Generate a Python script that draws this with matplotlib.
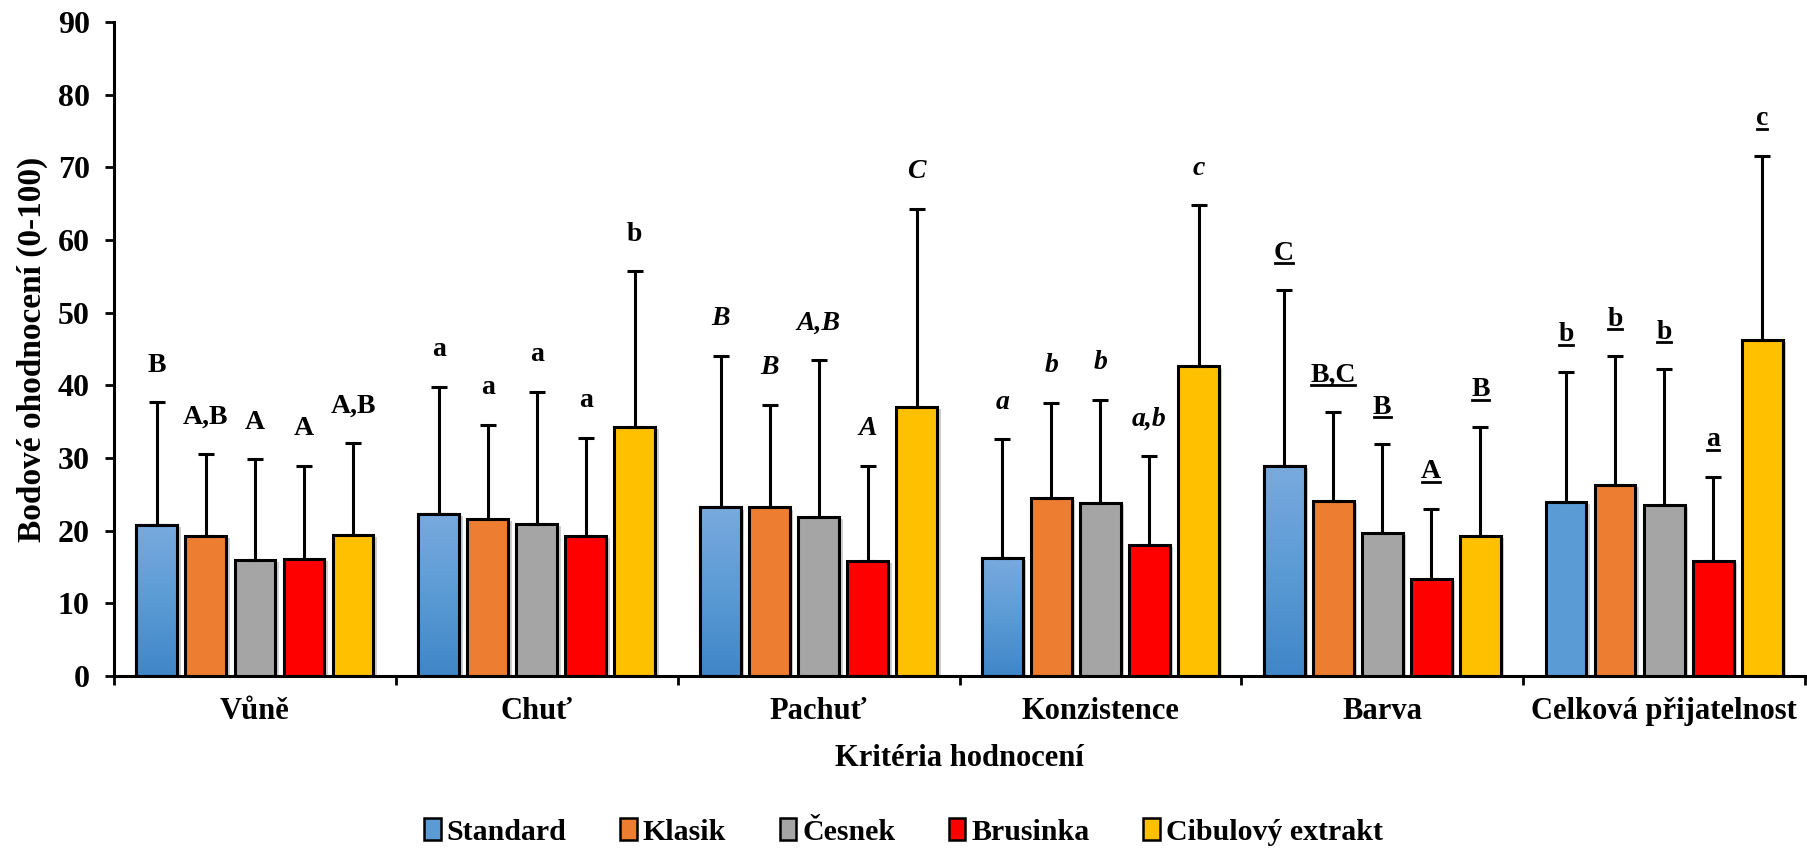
import matplotlib

matplotlib.use("Agg")

import matplotlib.pyplot as plt
import numpy as np
from matplotlib import patheffects
from matplotlib.colors import LinearSegmentedColormap
from matplotlib.lines import Line2D
from matplotlib.patches import Patch, Rectangle

# sensory scores (0-100), mean and standard deviation per sample and criterion
categories = ["Vůně", "Chuť", "Pachuť", "Konzistence", "Barva", "Celková přijatelnost"]
samples = ["Standard", "Klasik", "Česnek", "Brusinka", "Cibulový extrakt"]

standard_mean = [20.8, 22.3, 23.2, 16.3, 28.9, 23.9]
klasik_mean = [19.3, 21.6, 23.2, 24.5, 24.1, 26.3]
cesnek_mean = [16.0, 20.9, 21.9, 23.8, 19.7, 23.6]
brusinka_mean = [16.1, 19.3, 15.8, 18.0, 13.3, 15.8]
cibule_mean = [19.4, 34.3, 37.0, 42.6, 19.3, 46.3]

standard_sd = [16.9, 17.5, 20.9, 16.3, 24.2, 18.0]
klasik_sd = [11.2, 13.0, 14.1, 13.1, 12.2, 17.7]
cesnek_sd = [13.8, 18.2, 21.6, 14.2, 12.2, 18.6]
brusinka_sd = [12.8, 13.5, 13.1, 12.3, 9.7, 11.6]
cibule_sd = [12.7, 21.4, 27.3, 22.2, 15.0, 25.3]

# significance letters
standard_letters = ["B", "a", "B", "a", "C", "b"]
klasik_letters = ["A,B", "a", "B", "b", "B,C", "b"]
cesnek_letters = ["A", "a", "A,B", "b", "B", "b"]
brusinka_letters = ["A", "a", "A", "a,b", "A", "a"]
cibule_letters = ["A,B", "b", "C", "c", "B", "c"]

letter_style = ["normal", "normal", "italic", "italic", "underline", "underline"]

means = [standard_mean, klasik_mean, cesnek_mean, brusinka_mean, cibule_mean]
sds = [standard_sd, klasik_sd, cesnek_sd, brusinka_sd, cibule_sd]
letters = [standard_letters, klasik_letters, cesnek_letters, brusinka_letters, cibule_letters]

colors = ["#5b9bd5", "#ed7d31", "#a5a5a5", "#ff0000", "#ffc000"]
blue_fade = LinearSegmentedColormap.from_list("blue_fade", ["#3f86c8", "#5b9bd5", "#79aade"])
gradient_groups = [True, True, True, True, True, False]

plt.rcParams["font.family"] = ["Liberation Serif", "DejaVu Serif"]
plt.rcParams["font.weight"] = "bold"
plt.rcParams["axes.labelweight"] = "bold"

fig = plt.figure(figsize=(18.07, 8.48), dpi=100)
ax = fig.add_axes([0.0631, 0.2028, 0.9358, 0.7712])

x = np.arange(len(categories))
width = 0.145
pitch = 0.174
lw = 2.2
label_offset = 22
shadow = [
    patheffects.SimplePatchShadow(offset=(2.5, -1.5), shadow_rgbFace="0.45", alpha=0.35),
    patheffects.Normal(),
]
gradient = np.linspace(0, 1, 256).reshape(-1, 1)

underlined = []
for i, (mean, sd, marks, color) in enumerate(zip(means, sds, letters, colors)):
    mean = np.asarray(mean, dtype=float)
    sd = np.asarray(sd, dtype=float)
    pos = x + (i - 2) * pitch
    bars = ax.bar(pos, mean, width, color=color, edgecolor="black", linewidth=lw,
                  zorder=2, path_effects=shadow)

    if i == 0:
        for bar, use_gradient in zip(bars, gradient_groups):
            if not use_gradient:
                continue
            x0, y0 = bar.get_xy()
            w, h = bar.get_width(), bar.get_height()
            im = ax.imshow(gradient, cmap=blue_fade, origin="lower", aspect="auto",
                           extent=(x0, x0 + w, y0, y0 + h), zorder=2.05)
            im.set_clip_path(bar)
            ax.add_patch(Rectangle((x0, y0), w, h, fill=False, edgecolor="black",
                                   linewidth=lw, zorder=2.1))

    ax.errorbar(pos, mean, yerr=[np.zeros_like(sd), sd], fmt="none", ecolor="black",
                elinewidth=lw, capsize=6, capthick=lw, zorder=3)

    for j, letter in enumerate(marks):
        style = letter_style[j]
        t = ax.annotate(letter, xy=(pos[j], mean[j] + sd[j]), xytext=(0, label_offset),
                        textcoords="offset points", ha="center", va="baseline",
                        fontsize=20, fontweight="bold",
                        fontstyle="italic" if style == "italic" else "normal", zorder=4)
        if style == "underline":
            underlined.append(t)

ax.set_xlim(-0.5, len(categories) - 0.5)
ax.set_ylim(0, 90)
ax.set_yticks(np.arange(0, 91, 10))
ax.set_xticks(np.arange(-0.5, len(categories), 1))
ax.set_xticklabels([])
ax.set_xticks(x, minor=True)
ax.set_xticklabels(categories, minor=True)
ax.tick_params(axis="x", which="minor", length=0, pad=15, labelsize=22)
ax.tick_params(axis="x", which="major", direction="out", length=6.5, width=2)
ax.tick_params(axis="y", direction="out", length=6.5, width=2, labelsize=23, pad=11)
for side in ("top", "right"):
    ax.spines[side].set_visible(False)
for side in ("left", "bottom"):
    ax.spines[side].set_linewidth(lw)

ax.set_xlabel("Kritéria hodnocení", fontsize=22, labelpad=13)
ax.set_ylabel("Bodové ohodnocení (0-100)", fontsize=24, labelpad=7)

handles = [Patch(facecolor=c, edgecolor="black", linewidth=1.8) for c in colors]
fig.legend(handles, samples, loc="center", bbox_to_anchor=(0.5, 0.019), ncol=5,
           frameon=False, fontsize=21.5, handlelength=0.55, handleheight=0.75,
           handletextpad=0.2, columnspacing=1.8)

# underline the letters of the last two criteria
fig.canvas.draw()
renderer = fig.canvas.get_renderer()
W, H = fig.bbox.width, fig.bbox.height
for t in underlined:
    bb = t.get_window_extent(renderer)
    base = ax.transData.transform(t.xy)[1] + label_offset * fig.dpi / 72
    y_line = (base - 3.5) / H
    fig.add_artist(Line2D([(bb.x0 + 1) / W, (bb.x1 - 1) / W], [y_line, y_line],
                          transform=fig.transFigure, color="black", linewidth=2))

fig.savefig("out.png", dpi=100)
plt.close(fig)
